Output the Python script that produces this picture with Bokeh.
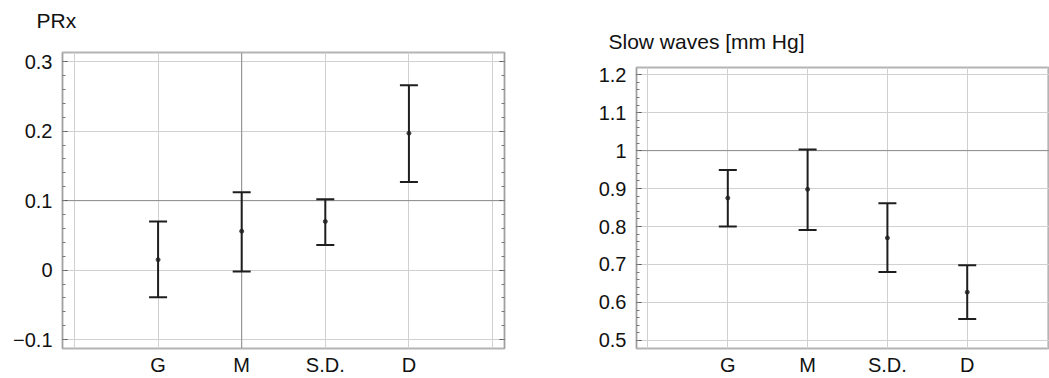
import numpy as np
from bokeh.plotting import figure
from bokeh.layouts import row
from bokeh.models import (ColumnDataSource, Whisker, TeeHead, FixedTicker,
                          LinearAxis, Span, Range1d)
from bokeh.embed import file_html
from bokeh.resources import INLINE

# ---------------- data ----------------
categories = ["G", "M", "S.D.", "D"]
cat_pos = [1, 2, 3, 4]
x_grid = [0, 1, 2, 3, 4, 5]

prx_mean = [0.015, 0.056, 0.070, 0.197]
prx_upper = [0.070, 0.112, 0.102, 0.266]
prx_lower = [-0.039, -0.002, 0.036, 0.127]

slow_mean = [0.875, 0.898, 0.770, 0.627]
slow_upper = [0.949, 1.003, 0.861, 0.698]
slow_lower = [0.800, 0.791, 0.680, 0.556]

prx_ticks = [-0.1, 0.0, 0.1, 0.2, 0.3]
prx_tick_labels = ["\u22120.1", "0", "0.1", "0.2", "0.3"]
prx_minor = [round(v, 2) for v in np.arange(-0.1, 0.3001, 0.02)]

slow_ticks = [0.5, 0.6, 0.7, 0.8, 0.9, 1.0, 1.1, 1.2]
slow_tick_labels = ["0.5", "0.6", "0.7", "0.8", "0.9", "1", "1.1", "1.2"]
slow_minor = [round(v, 2) for v in np.arange(0.5, 1.2001, 0.02)]

FONT = "Liberation Sans"
GRID = "#d0d0d0"
DARK = "#8c8c8c"
BAR = "#1e1e1e"
TXT = "#111111"


def make_panel(title, mean, upper, lower, yticks, ylabels, yminor,
               x_range, y_range, width, height, bl, br, bt, bb,
               title_offset, title_gap, right_axis, dark_y, dark_x):
    p = figure(width=width, height=height, x_range=Range1d(*x_range),
               y_range=Range1d(*y_range), output_backend="svg",
               toolbar_location=None, min_border_left=bl, min_border_right=br,
               min_border_top=bt, min_border_bottom=bb)
    p.frame_align = False
    p.background_fill_color = "white"
    p.border_fill_color = "white"
    p.outline_line_color = "#b4b4b4"
    p.outline_line_width = 2

    # invisible spacer axis between title and frame (nothing drawn)
    spacer = LinearAxis(ticker=FixedTicker(ticks=[cat_pos[0]]),
                        axis_line_color=None,
                        major_tick_line_color=None, minor_tick_line_color=None,
                        major_tick_in=0, major_tick_out=title_gap,
                        minor_tick_in=0, minor_tick_out=0,
                        major_label_standoff=0,
                        major_label_text_font_size="1px",
                        major_label_text_color=None)
    p.add_layout(spacer, "above")

    p.title.text = title
    p.title.align = "left"
    p.title.offset = title_offset
    p.title.standoff = 0
    p.title.text_font = FONT
    p.title.text_font_size = "21px"
    p.title.text_font_style = "normal"
    p.title.text_color = TXT

    # x axis (categories)
    xa = p.below[0]
    xa.ticker = FixedTicker(ticks=cat_pos)
    xa.major_label_overrides = dict(zip(cat_pos, categories))
    xa.major_label_text_font = FONT
    xa.major_label_text_font_size = "20px"
    xa.major_label_text_line_height = 1.0
    xa.major_label_text_color = TXT
    xa.major_label_standoff = 5
    xa.axis_line_color = None
    xa.major_tick_in = 0
    xa.major_tick_out = 0
    xa.minor_tick_in = 0
    xa.minor_tick_out = 0
    xa.major_tick_line_color = None
    xa.minor_tick_line_color = None

    # y axis
    yt = FixedTicker(ticks=yticks, minor_ticks=yminor)
    ya = p.left[0]
    ya.ticker = yt
    ya.major_label_overrides = dict(zip(yticks, ylabels))
    ya.major_label_text_font = FONT
    ya.major_label_text_font_size = "20px"
    ya.major_label_text_color = TXT
    ya.major_label_standoff = 10
    ya.axis_line_color = "#a0a0a0"
    ya.major_tick_in = 5
    ya.major_tick_out = 0
    ya.minor_tick_in = 3
    ya.minor_tick_out = 0
    ya.major_tick_line_color = "#555555"
    ya.minor_tick_line_color = "#777777"

    if right_axis:
        ra = LinearAxis(ticker=yt, major_label_text_font_size="1px",
                        major_label_text_color=None,
                        major_label_standoff=0, axis_line_color="#a0a0a0",
                        major_tick_in=5, major_tick_out=0, minor_tick_in=3,
                        minor_tick_out=0, major_tick_line_color="#555555",
                        minor_tick_line_color="#777777")
        p.add_layout(ra, "right")

    # grid
    p.xgrid.ticker = FixedTicker(ticks=x_grid)
    p.xgrid.grid_line_color = GRID
    p.xgrid.grid_line_width = 1
    p.ygrid.ticker = FixedTicker(ticks=yticks)
    p.ygrid.grid_line_color = GRID
    p.ygrid.grid_line_width = 1

    if dark_y is not None:
        p.add_layout(Span(location=dark_y, dimension="width",
                          line_color=DARK, line_width=1, level="underlay"))
    if dark_x is not None:
        p.add_layout(Span(location=dark_x, dimension="height",
                          line_color=DARK, line_width=1, level="underlay"))

    src = ColumnDataSource(dict(x=cat_pos, mean=mean, upper=upper, lower=lower))
    w = Whisker(source=src, base="x", upper="upper", lower="lower",
                line_color=BAR, line_width=2, level="glyph",
                upper_head=TeeHead(size=18, line_color=BAR, line_width=2),
                lower_head=TeeHead(size=18, line_color=BAR, line_width=2))
    p.add_layout(w)
    p.scatter("x", "mean", source=src, size=4, color="#444444")
    return p


p1 = make_panel("PRx", prx_mean, prx_upper, prx_lower,
                prx_ticks, prx_tick_labels, prx_minor,
                (-0.143, 5.143), (-0.1128, 0.3132),
                width=528, height=378, bl=62, br=24, bt=52, bb=27,
                title_offset=-26, title_gap=21, right_axis=True,
                dark_y=0.1, dark_x=2)

p2 = make_panel("Slow waves [mm Hg]", slow_mean, slow_upper, slow_lower,
                slow_ticks, slow_tick_labels, slow_minor,
                (-0.144, 5.031), (0.4786, 1.219),
                width=521, height=378, bl=108, br=0, bt=67, bb=27,
                title_offset=-28, title_gap=15, right_axis=False,
                dark_y=1.0, dark_x=None)

layout = row(p1, p2)
open("out.html", "w").write(file_html(layout, INLINE))
